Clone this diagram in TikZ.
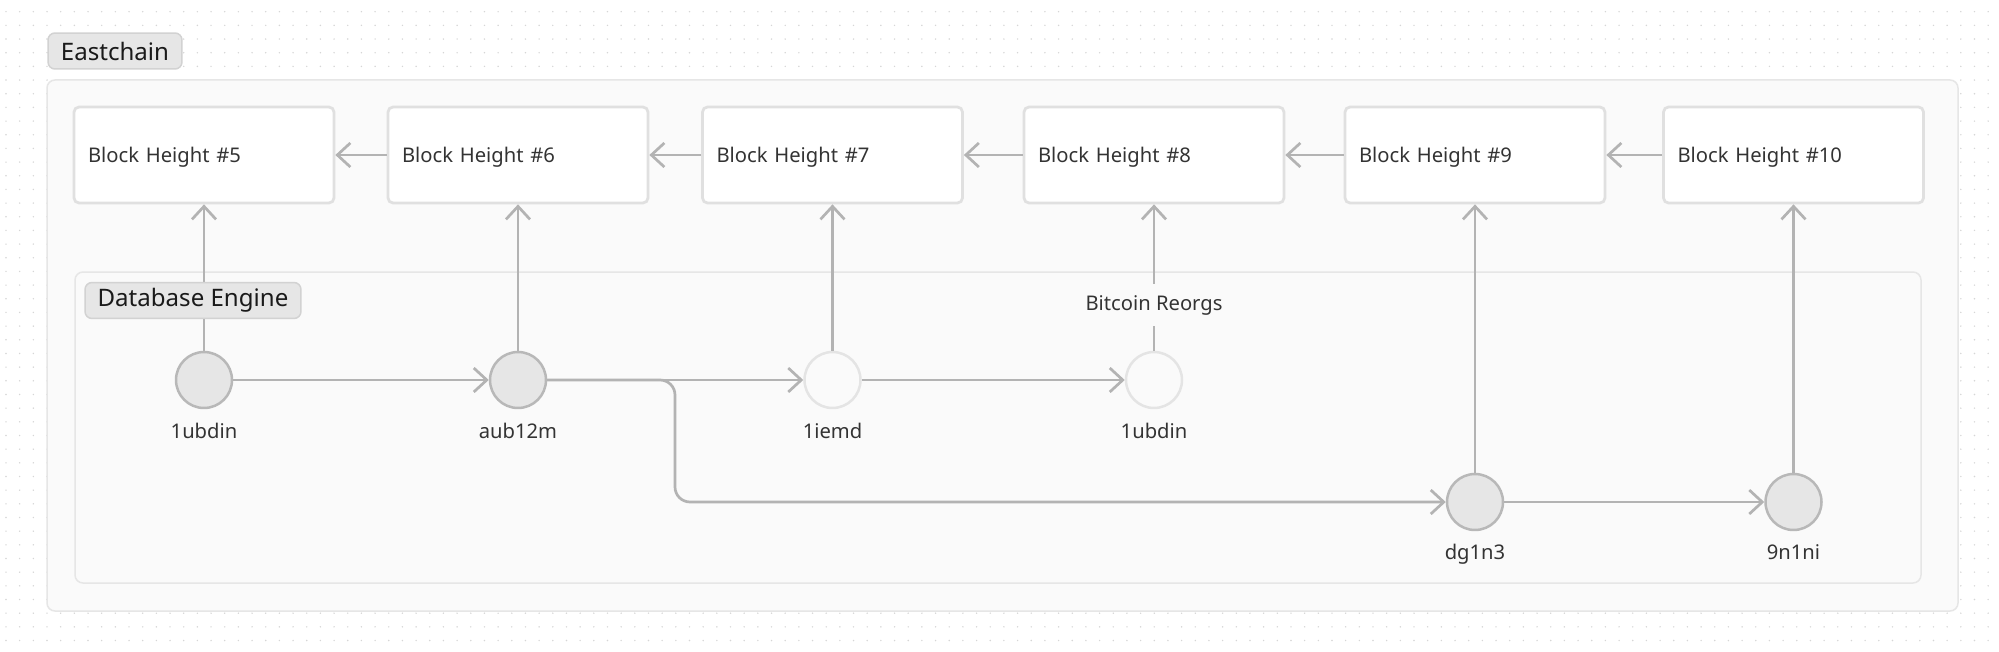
\documentclass[tikz,border=0pt]{standalone}
\usepackage{fontspec}
\setmainfont{Noto Sans}
\usetikzlibrary{positioning,arrows.meta,calc}

\definecolor{linegray}{HTML}{B3B3B3}
\definecolor{nodefill}{HTML}{E6E6E6}
\definecolor{nodeline}{HTML}{B8B8B8}
\definecolor{ghostline}{HTML}{E4E4E4}
\definecolor{ghostfill}{HTML}{FAFAFA}
\definecolor{boxline}{HTML}{E0E0E0}
\definecolor{panelfill}{HTML}{FAFAFA}
\definecolor{panelline}{HTML}{E6E6E6}
\definecolor{tagfill}{HTML}{E6E6E6}
\definecolor{tagline}{HTML}{D2D2D2}
\definecolor{dotgray}{HTML}{D6D6D6}
\definecolor{textdark}{HTML}{1A1A1A}
\definecolor{textgray}{HTML}{333333}

\begin{document}
\begin{tikzpicture}[
  x=0.02cm, y=-0.02cm,
  font=\fontsize{11.5}{14}\selectfont,
  >={Straight Barb[length=0.26cm, width=0.48cm]},
  panel/.style={draw=panelline, fill=panelfill, line width=0.03cm,
                rounded corners=0.16cm},
  tag/.style={draw=tagline, fill=tagfill, line width=0.03cm,
              rounded corners=0.14cm, minimum height=0.72cm, inner sep=0pt,
              font=\fontsize{13.7}{16}\selectfont, text=textdark},
  blockbox/.style={draw=boxline, fill=white, line width=0.055cm,
                   rounded corners=0.1cm, text width=4.64cm, inner xsep=0.28cm,
                   text depth=0pt, minimum height=1.92cm, align=left,
                   text=textgray},
  txnode/.style={circle, draw=nodeline, fill=nodefill, line width=0.05cm,
                 minimum size=1.12cm, inner sep=0pt},
  ghostnode/.style={txnode, draw=ghostline, fill=ghostfill},
  idlabel/.style={text=textgray, inner sep=0pt, anchor=base},
  arr/.style={->, draw=linegray, line width=0.054cm},
  link/.style={draw=linegray, line width=0.054cm},
]

% --- Canvas with dot grid ---
\fill[white] (0,0) rectangle (1999,652);
\useasboundingbox (0,0) rectangle (1999,652);
\foreach \i in {0,...,145}
  \foreach \j in {0,...,46}
    \fill[dotgray] (6+13.67*\i, 11.7+13.67*\j) circle (0.016cm);

% --- Containers ---
\draw[panel] (47,80) rectangle (1958,611);
\draw[panel] (75,272) rectangle (1921,583);

% --- Block heights (top row) ---
\node[blockbox] (b5)  at (204,155)    {Block Height \#5};
\node[blockbox] (b6)  at (518,155)    {Block Height \#6};
\node[blockbox] (b7)  at (832.5,155)  {Block Height \#7};
\node[blockbox] (b8)  at (1154,155)   {Block Height \#8};
\node[blockbox] (b9)  at (1475,155)   {Block Height \#9};
\node[blockbox] (b10) at (1793.5,155) {Block Height \#10};

\foreach \from/\to in {b6/b5, b7/b6, b8/b7, b9/b8, b10/b9}
  \draw[arr] (\from) -- (\to);

% --- Transactions in the database engine ---
\node[txnode]    (tx1) at (204,380)    {};
\node[txnode]    (tx2) at (518,380)    {};
\node[ghostnode] (tx3) at (832.5,380)  {};
\node[ghostnode] (tx4) at (1154,380)   {};
\node[txnode]    (tx5) at (1475,502)   {};
\node[txnode]    (tx6) at (1793.5,502) {};

\node[idlabel] (lab1) at ([yshift=-0.58cm]tx1.south) {1ubdin};
\node[idlabel] (lab2) at ([yshift=-0.58cm]tx2.south) {aub12m};
\node[idlabel] (lab3) at ([yshift=-0.58cm]tx3.south) {1iemd};
\node[idlabel] (lab4) at ([yshift=-0.58cm]tx4.south) {1ubdin};
\node[idlabel] (lab5) at ([yshift=-0.56cm]tx5.south) {dg1n3};
\node[idlabel] (lab6) at ([yshift=-0.56cm]tx6.south) {9n1ni};

% --- Links between transactions ---
\draw[arr] (tx1) -- (tx2);
\draw[arr] (tx2) -- (tx3);
\draw[arr] (tx3) -- (tx4);
\draw[arr] (tx5) -- (tx6);
\coordinate (bend) at (675,440);
\draw[arr, rounded corners=0.3cm] (tx2.east) -- (tx2.east -| bend) |- (tx5.west);

% --- Transactions up to their blocks ---
\draw[arr] (tx1) -- (b5);
\draw[arr] (tx2) -- (b6);
\draw[arr] (tx3) -- (b7);
\draw[arr] (tx5) -- (b9);
\draw[arr] (tx6) -- (b10);

\node[text=textgray, fill=panelfill, inner sep=0pt, minimum height=0.84cm]
  (reorg) at (1154,305) {Bitcoin Reorgs};
\draw[link] (tx4) -- (reorg);
\draw[arr] (reorg) -- (b8);

% --- Group tags ---
\node[tag, minimum width=2.68cm] (eastchain) at (115,51)    {Eastchain};
\node[tag, minimum width=4.32cm] (dbengine)  at (193,300.5) {Database Engine};

\end{tikzpicture}
\end{document}
